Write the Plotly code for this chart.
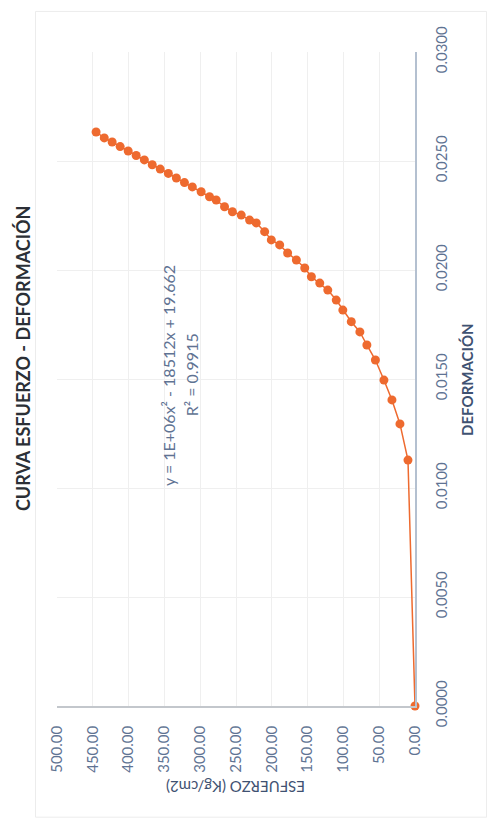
import plotly.graph_objects as go

esfuerzo = [0.0, 9.8, 21.0, 32.2, 43.4, 55.3, 67.2, 77.0, 89.0, 100.8,
            110.0, 121.8, 133.0, 144.7, 154.0, 165.7, 177.9, 189.0, 200.7, 210.0,
            221.7, 231.0, 242.7, 255.0, 266.0, 277.7, 287.0, 298.7, 311.0, 322.0,
            333.3, 344.5, 355.8, 367.0, 378.0, 389.4, 400.6, 411.8, 423.0, 434.0,
            445.4]
deformacion = [0.0, 0.01128, 0.01294, 0.01404, 0.01495, 0.01587, 0.01656, 0.01716, 0.01763, 0.01816,
               0.01862, 0.01908, 0.0194, 0.01969, 0.02009, 0.02046, 0.02078, 0.02115, 0.02138, 0.02176,
               0.02216, 0.02229, 0.02252, 0.02267, 0.0229, 0.02321, 0.02336, 0.02359, 0.02381, 0.02401,
               0.02422, 0.02443, 0.02463, 0.02483, 0.02505, 0.02525, 0.02546, 0.02566, 0.02587, 0.02606,
               0.02633]

esf_ticks = [0, 50, 100, 150, 200, 250, 300, 350, 400, 450, 500]
def_ticks = [0.0, 0.005, 0.01, 0.015, 0.02, 0.025, 0.03]

orange = '#ee6a2f'
tick_col = '#5f7393'
font = 'Lato, Open Sans, sans-serif'

fig = go.Figure()
fig.add_trace(go.Scatter(x=esfuerzo, y=deformacion, mode='lines+markers', cliponaxis=False,
                         line=dict(color=orange, width=1.5),
                         marker=dict(color=orange, size=9), showlegend=False))

# page body has an 8px margin, so the figure is 8px smaller and shifted
fig.update_layout(
    width=487, height=814,
    margin=dict(l=49, r=80, t=44, b=116, autoexpand=False),
    paper_bgcolor='white', plot_bgcolor='white',
    font=dict(family=font, color=tick_col),
    xaxis=dict(range=[500, 0], tickvals=esf_ticks, tickformat='.2f', tickangle=-90,
               showgrid=True, gridcolor='#efefef', zeroline=False,
               showline=True, linecolor='#c3c7cc', linewidth=1.5,
               tickfont=dict(size=15, color=tick_col), ticklabelstandoff=12),
    yaxis=dict(range=[0, 0.03], tickvals=def_ticks, tickformat='.4f', tickangle=-90,
               side='right', showgrid=True, gridcolor='#efefef', zeroline=False,
               showline=True, linecolor='#b4c0d0', linewidth=1.5,
               tickfont=dict(size=15, color=tick_col), ticklabelstandoff=12),
)

# titles and trendline label, rotated like the scan
ann = dict(xref='paper', yref='paper', showarrow=False, xanchor='center', yanchor='middle')
fig.add_annotation(text='<b>CURVA ESFUERZO - DEFORMACIÓN</b>', x=-0.095, y=0.532, textangle=-90,
                   font=dict(size=18, color='#2b2f36'), **ann)
fig.add_annotation(text='<b>DEFORMACIÓN</b>', x=1.145, y=0.50, textangle=-90,
                   font=dict(size=15, color='#3f5272'), **ann)
fig.add_annotation(text='ESFUERZO (Kg/cm2)', x=0.5, y=-0.124, textangle=180,
                   font=dict(size=15, color='#3f5272'), **ann)
fig.add_annotation(text='y = 1E+06x² - 18512x + 19.662', x=0.31, y=0.506, textangle=-90,
                   font=dict(size=16, color=tick_col), **ann)
fig.add_annotation(text='R² = 0.9915', x=0.375, y=0.506, textangle=-90,
                   font=dict(size=16, color=tick_col), **ann)

# faint chart-area frame from the scan
fig.add_shape(type='rect', xref='paper', yref='paper', x0=-0.06, x1=1.2, y0=-0.17, y1=1.062,
              line=dict(color='#ececec', width=1))

fig.write_html("out.html")
